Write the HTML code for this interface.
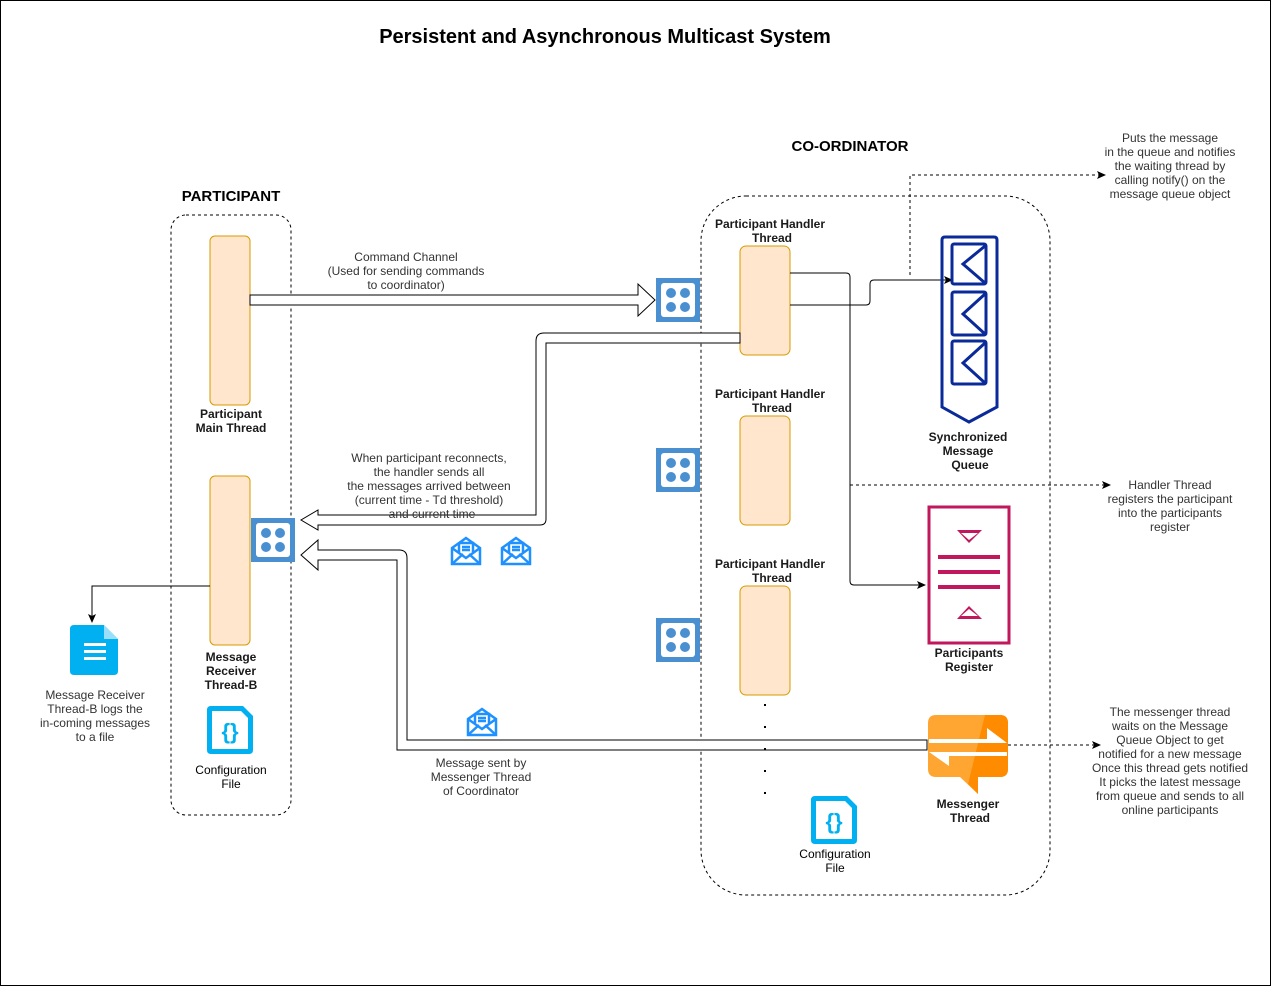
<!DOCTYPE html>
<html><head><meta charset="utf-8"><style>
html,body{margin:0;padding:0;background:#fff;}
svg{display:block;font-family:"Liberation Sans",Arial,sans-serif;}
.n{font-size:12px;fill:#333;text-anchor:middle;}
.b{font-size:12px;font-weight:bold;fill:#1a1a1a;text-anchor:middle;}
.th{fill:#ffe6cc;stroke:#d79b00;stroke-width:1;}
</style></head><body>
<svg width="1272" height="987" viewBox="0 0 1272 987" xmlns="http://www.w3.org/2000/svg">
<defs>
<marker id="ar" markerWidth="10" markerHeight="10" refX="8" refY="5" orient="auto" markerUnits="userSpaceOnUse"><path d="M0,1 L9,5 L0,9 L2,5 Z" fill="#000"/></marker>
<g id="sock"><rect x="0" y="0" width="44" height="44" fill="#4a90d0"/><rect x="5" y="5" width="34" height="34" rx="3" fill="#fff"/><circle cx="15" cy="15" r="5" fill="#4a90d0"/><circle cx="29" cy="15" r="5" fill="#4a90d0"/><circle cx="15" cy="29" r="5" fill="#4a90d0"/><circle cx="29" cy="29" r="5" fill="#4a90d0"/></g>
<g id="env" fill="none" stroke="#1e90ff" stroke-width="2.5"><path d="M2,12 L16,2 L30,12 L30,28 L2,28 Z"/><path d="M2,28 L13,18 M30,28 L19,18 M2,12 L16,22 L30,12"/><path d="M9,7 H23 V16 M9,7 V16 M12,11 H20 M12,14 H20"/></g>
<g id="cfg"><path d="M0,4 Q0,0 4,0 H36 L46,10 V44 Q46,48 42,48 H4 Q0,48 0,44 Z" fill="#00b0f0"/><path d="M5,5 H34 L41,12 V43 H5 Z" fill="#fff"/><text x="23" y="33" font-size="22" font-weight="bold" fill="#00b0f0" text-anchor="middle">{}</text></g>
</defs>
<rect x="0.5" y="0.5" width="1270" height="985" fill="#fff" stroke="#000"/>
<text x="605" y="43" font-size="20" font-weight="bold" text-anchor="middle" fill="#000">Persistent and Asynchronous Multicast System</text>
<text x="231" y="201" font-size="15" font-weight="bold" text-anchor="middle" fill="#000">PARTICIPANT</text>
<text x="850" y="151" font-size="15" font-weight="bold" text-anchor="middle" fill="#000">CO-ORDINATOR</text>

<rect x="171" y="215" width="120" height="600" rx="15" fill="none" stroke="#000" stroke-dasharray="3,3"/>
<rect x="701" y="196" width="349" height="699" rx="45" fill="none" stroke="#000" stroke-dasharray="3,3"/>

<rect class="th" x="210" y="236" width="40" height="169" rx="5"/>
<text class="b" x="231" y="418">Participant</text><text class="b" x="231" y="432">Main Thread</text>
<rect class="th" x="210" y="476" width="40" height="169" rx="5"/>
<text class="b" x="231" y="661">Message</text><text class="b" x="231" y="675">Receiver</text><text class="b" x="231" y="689">Thread-B</text>
<use href="#cfg" x="207" y="706"/>
<text class="b" x="231" y="774" style="font-weight:normal;fill:#000">Configuration</text><text class="b" x="231" y="788" style="font-weight:normal;fill:#000">File</text>

<path d="M210,586 H92 V622" fill="none" stroke="#000" marker-end="url(#ar)"/>
<path d="M70,629 Q70,625 74,625 H104 L118,639 V671 Q118,675 114,675 H74 Q70,675 70,671 Z" fill="#00b0f0"/>
<path d="M104,625 V639 H118 Z" fill="#fff" opacity="0.6"/>
<rect x="84" y="643" width="22" height="3" fill="#fff"/><rect x="84" y="650" width="22" height="3" fill="#fff"/><rect x="84" y="657" width="22" height="3" fill="#fff"/>
<text class="n" x="95" y="699">Message Receiver</text><text class="n" x="95" y="713">Thread-B logs the</text><text class="n" x="95" y="727">in-coming messages</text><text class="n" x="95" y="741">to a file</text>

<rect class="th" x="740" y="246" width="50" height="109" rx="6"/>
<rect class="th" x="740" y="416" width="50" height="109" rx="6"/>
<rect class="th" x="740" y="586" width="50" height="109" rx="6"/>
<text class="b" x="770" y="228">Participant Handler</text><text class="b" x="772" y="242">Thread</text>
<text class="b" x="770" y="398">Participant Handler</text><text class="b" x="772" y="412">Thread</text>
<text class="b" x="770" y="568">Participant Handler</text><text class="b" x="772" y="582">Thread</text>

<!-- command arrow -->
<path d="M250,295 H638 V284 L655,300 L638,316 V305 H250 Z" fill="#fff" stroke="#000"/>
<text class="n" x="406" y="261">Command Channel</text><text class="n" x="406" y="275">(Used for sending commands</text><text class="n" x="406" y="289">to coordinator)</text>

<!-- return arrow -->
<path d="M740,333 H544 Q536,333 536,341 V515 H318 V510 L301,520 L318,530 V525 H540 Q546,525 546,519 V343 H740 Z" fill="#fff" stroke="#000"/>
<text class="n" x="429" y="462">When participant reconnects,</text><text class="n" x="429" y="476">the handler sends all</text><text class="n" x="429" y="490">the messages arrived between</text><text class="n" x="429" y="504">(current time - Td threshold)</text><text class="n" x="432" y="518">and current time</text>

<!-- messenger arrow -->
<path d="M318,550 H399 Q407,550 407,558 V740 H927 V750 H397 V560 H318 V570 L301,555 L318,540 Z" fill="#fff" stroke="#000"/>
<text class="n" x="481" y="767">Message sent by</text><text class="n" x="481" y="781">Messenger Thread</text><text class="n" x="481" y="795">of Coordinator</text>

<use href="#sock" x="656" y="278"/><use href="#sock" x="656" y="448"/><use href="#sock" x="656" y="618"/><use href="#sock" x="251" y="518"/>
<use href="#env" x="450" y="536"/><use href="#env" x="500" y="536"/><use href="#env" x="466" y="707"/>

<!-- connectors -->
<path d="M790,273 H846 Q850,273 850,277 V581 Q850,585 854,585 H925" fill="none" stroke="#000" marker-end="url(#ar)"/>
<path d="M790,305 H866 Q870,305 870,301 V284 Q870,280 874,280 H952" fill="none" stroke="#000" marker-end="url(#ar)"/>
<path d="M910,275 V175 H1105" fill="none" stroke="#000" stroke-dasharray="3,3" marker-end="url(#ar)"/>
<path d="M850,485 H1110" fill="none" stroke="#000" stroke-dasharray="3,3" marker-end="url(#ar)"/>
<path d="M1008,745 H1100" fill="none" stroke="#000" stroke-dasharray="3,3" marker-end="url(#ar)"/>

<!-- queue -->
<path d="M942,240 Q942,237 945,237 H994 Q997,237 997,240 V407 L969,422 L942,407 Z" fill="none" stroke="#0a2a99" stroke-width="3"/>
<g fill="none" stroke="#0a2a99" stroke-width="3"><rect x="952" y="244" width="34" height="40" rx="2"/><path d="M985,246 L963,264 L985,283"/><rect x="952" y="292" width="34" height="43" rx="2"/><path d="M985,294 L963,314 L985,334"/><rect x="952" y="341" width="34" height="43" rx="2"/><path d="M985,343 L963,363 L985,383"/></g>
<text class="b" x="968" y="441">Synchronized</text><text class="b" x="968" y="455">Message</text><text class="b" x="970" y="469">Queue</text>

<!-- register -->
<rect x="929" y="507" width="80" height="136" fill="none" stroke="#c0175d" stroke-width="3"/>
<path d="M957,530 H982 L969,543 Z M957,619 H982 L969,606 Z" fill="#c0175d"/>
<path d="M961,533 H978 L969,540 Z M961,616 H978 L969,609 Z" fill="#fff"/>
<rect x="938" y="555" width="62" height="4" fill="#c0175d"/><rect x="938" y="570" width="62" height="4" fill="#c0175d"/><rect x="938" y="585" width="62" height="4" fill="#c0175d"/>
<text class="b" x="969" y="657">Participants</text><text class="b" x="969" y="671">Register</text>

<!-- messenger icon -->
<path d="M936,715 H1000 Q1008,715 1008,723 V769 Q1008,777 1000,777 H978 V794 L960,777 H936 Q928,777 928,769 V723 Q928,715 936,715 Z" fill="#ffa531"/>
<path d="M985,715 H1000 Q1008,715 1008,723 V769 Q1008,777 1000,777 H978 V794 L968,784 Z" fill="#ff8c00"/>
<path d="M929,739 H987 V728 L1007,743 H929 Z" fill="#fff"/>
<path d="M929,752 L949,766 V756 H1007 V752 Z" fill="#fff"/>
<text class="b" x="968" y="808">Messenger</text><text class="b" x="970" y="822">Thread</text>

<g fill="#000"><rect x="764" y="704" width="2" height="2"/><rect x="764" y="726" width="2" height="2"/><rect x="764" y="748" width="2" height="2"/><rect x="764" y="770" width="2" height="2"/><rect x="764" y="792" width="2" height="2"/></g>
<use href="#cfg" x="811" y="796"/>
<text class="n" x="835" y="858" style="fill:#000">Configuration</text><text class="n" x="835" y="872" style="fill:#000">File</text>

<text class="n" x="1170" y="142">Puts the message</text><text class="n" x="1170" y="156">in the queue and notifies</text><text class="n" x="1170" y="170">the waiting thread by</text><text class="n" x="1170" y="184">calling notify() on the</text><text class="n" x="1170" y="198">message queue object</text>
<text class="n" x="1170" y="489">Handler Thread</text><text class="n" x="1170" y="503">registers the participant</text><text class="n" x="1170" y="517">into the participants</text><text class="n" x="1170" y="531">register</text>
<text class="n" x="1170" y="716">The messenger thread</text><text class="n" x="1170" y="730">waits on the Message</text><text class="n" x="1170" y="744">Queue Object to get</text><text class="n" x="1170" y="758">notified for a new message</text><text class="n" x="1170" y="772">Once this thread gets notified</text><text class="n" x="1170" y="786">It picks the latest message</text><text class="n" x="1170" y="800">from queue and sends to all</text><text class="n" x="1170" y="814">online participants</text>
</svg>
</body></html>
